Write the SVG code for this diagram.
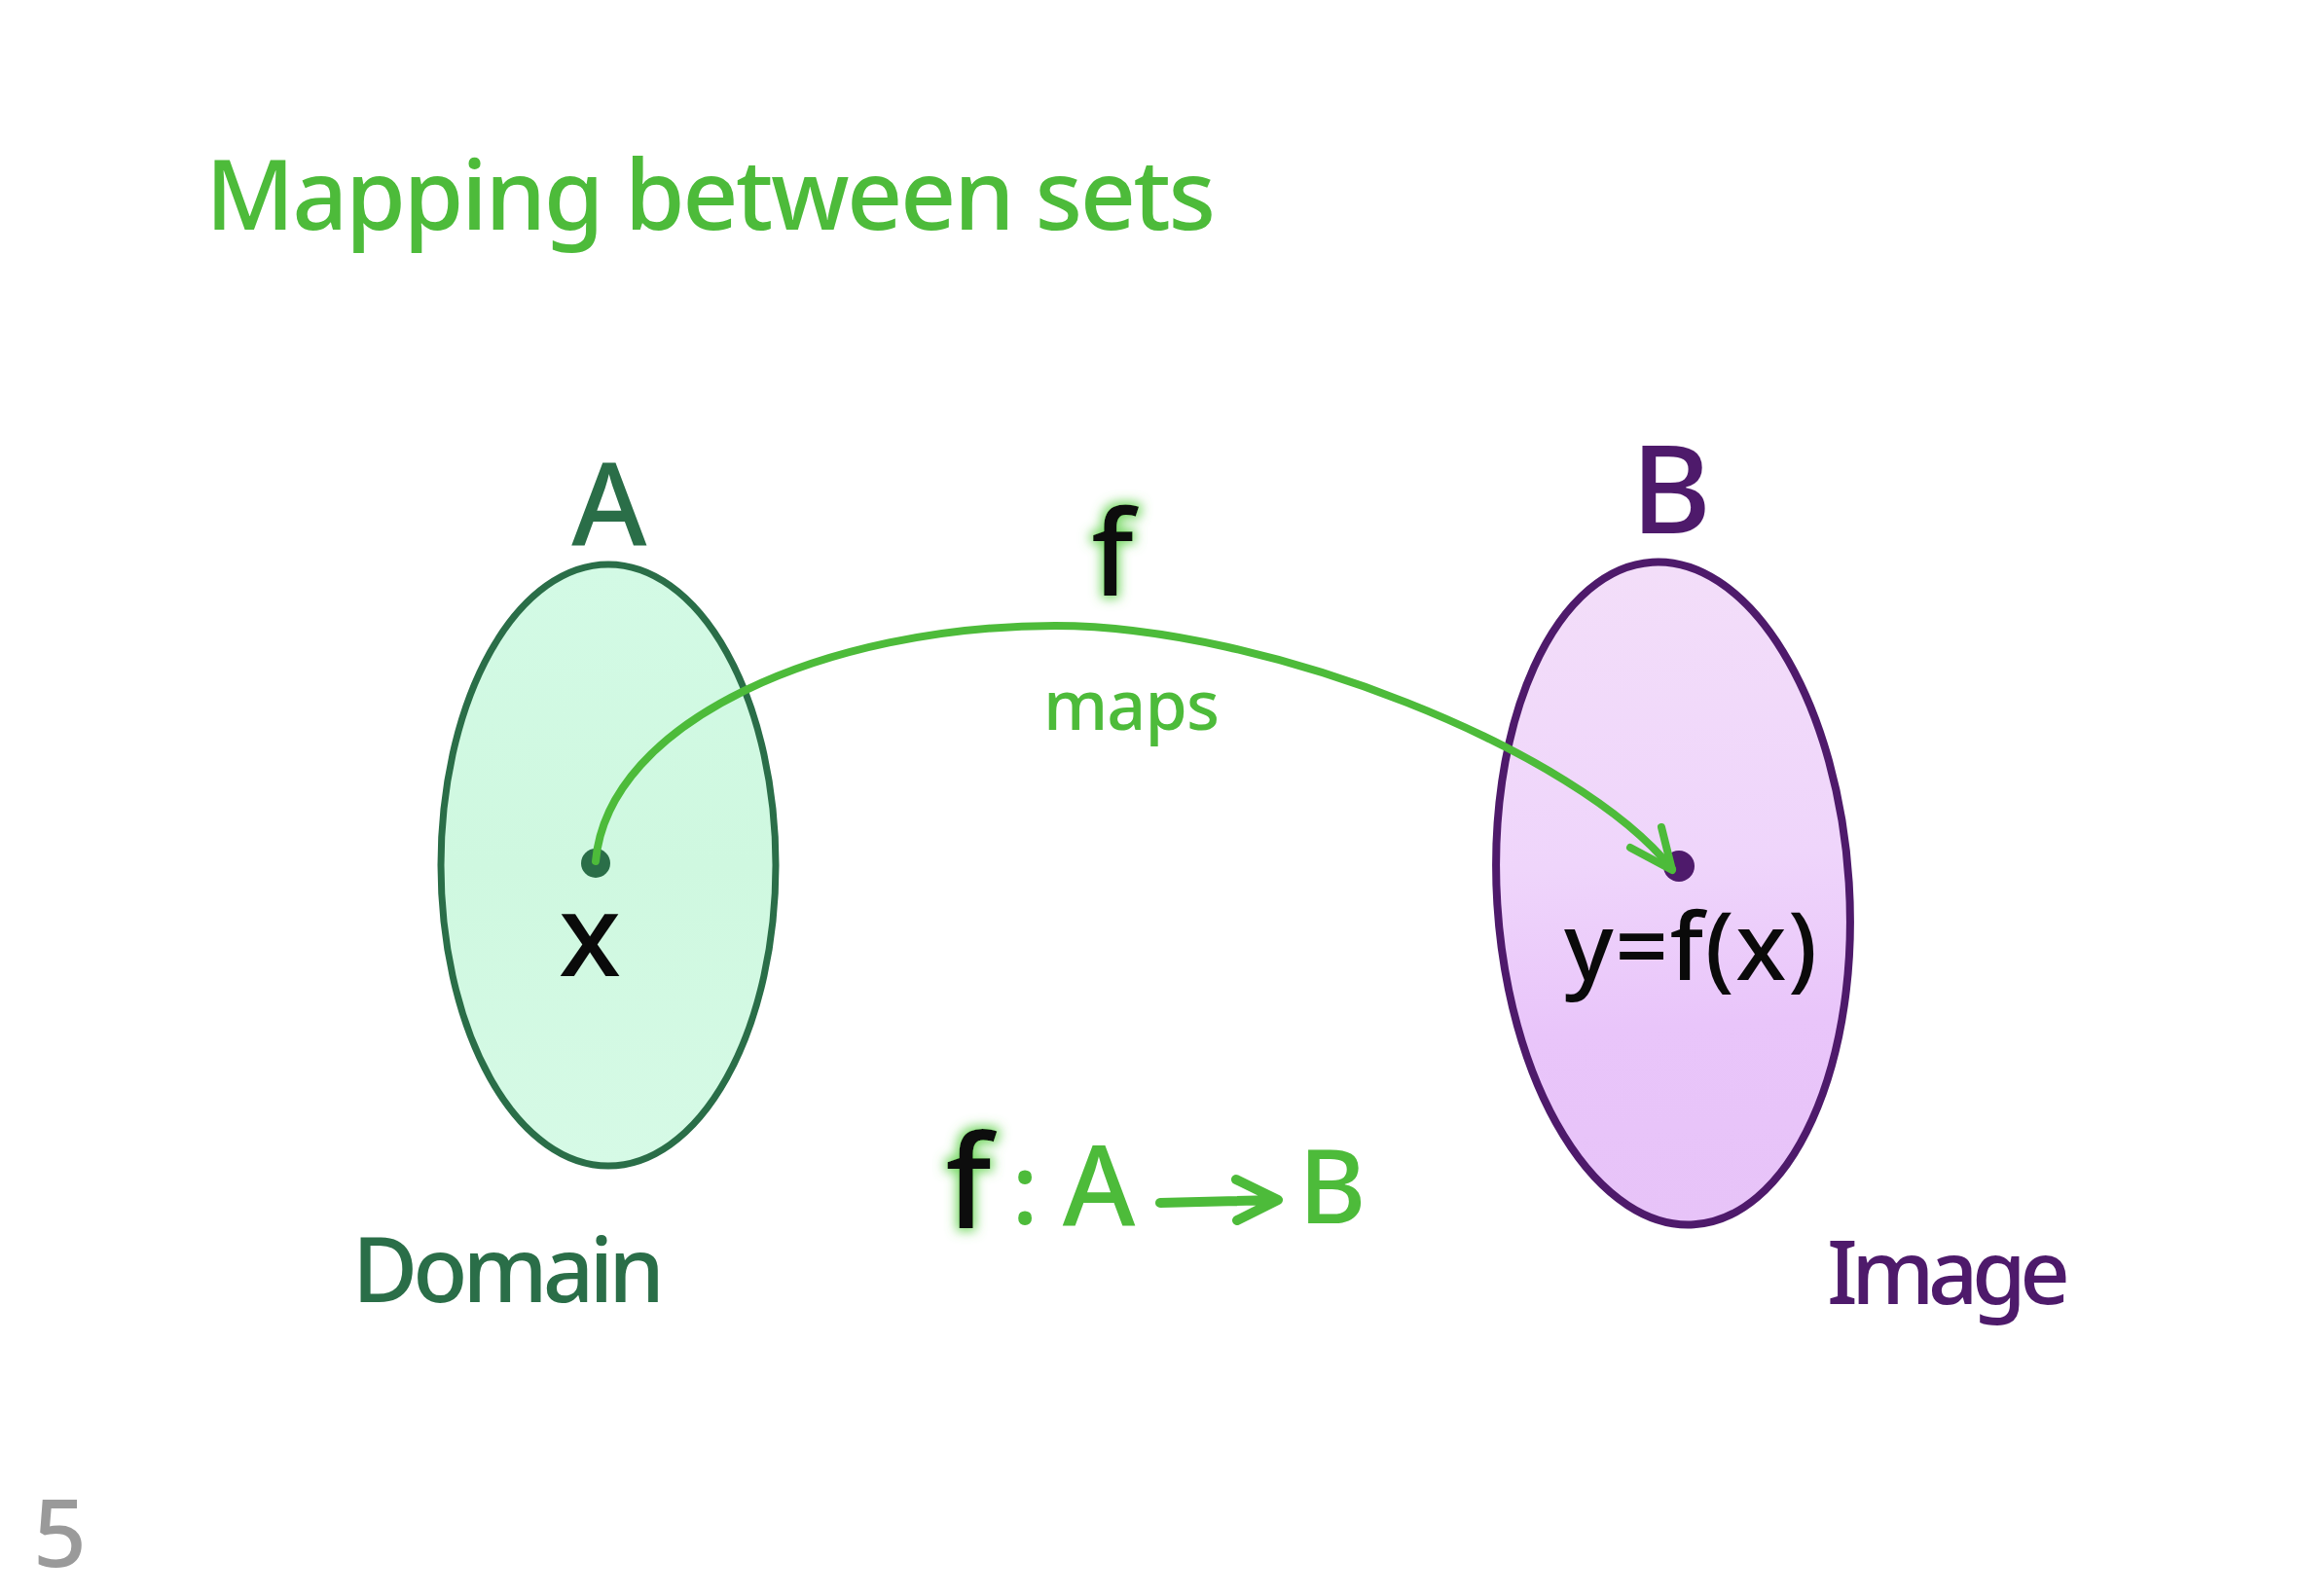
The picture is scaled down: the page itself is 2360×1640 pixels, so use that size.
<svg xmlns="http://www.w3.org/2000/svg" width="2360" height="1640" viewBox="0 0 2360 1640">
  <defs>
    <linearGradient id="gradA" x1="0" y1="0" x2="0" y2="1">
      <stop offset="0" stop-color="#d3fae5"/>
      <stop offset="0.5" stop-color="#cff8e0"/>
      <stop offset="1" stop-color="#d6fae6"/>
    </linearGradient>
    <linearGradient id="gradB" x1="0" y1="0" x2="0" y2="1">
      <stop offset="0" stop-color="#f3def9"/>
      <stop offset="0.45" stop-color="#efd5fb"/>
      <stop offset="0.7" stop-color="#e9c5fa"/>
      <stop offset="1" stop-color="#e7c3f8"/>
    </linearGradient>
    <filter id="glow" x="-50%" y="-50%" width="200%" height="200%">
      <feMorphology in="SourceAlpha" operator="dilate" radius="3" result="d"/>
      <feGaussianBlur in="d" stdDeviation="6" result="b"/>
      <feFlood flood-color="#5fd14a" flood-opacity="0.85"/>
      <feComposite in2="b" operator="in" result="g"/>
      <feMerge>
        <feMergeNode in="g"/>
        <feMergeNode in="SourceGraphic"/>
      </feMerge>
    </filter>
  </defs>
  <style>
    .hand { font-family: "Noto Sans", "Open Sans", "DejaVu Sans", sans-serif; font-weight: 500; }
    .green { fill: #4dbb3a; }
    .dkgreen { fill: #2a6e48; }
    .purple { fill: #4e1a6b; }
    .ink { fill: #0a0a0a; }
    .conn { fill: none; stroke: #4dbb3a; stroke-width: 8; stroke-linecap: round; stroke-linejoin: round; }
  </style>
  <rect width="2360" height="1640" fill="#ffffff"/>

  <g id="title">
    <text class="hand green" x="211" y="236" font-size="100" textLength="1038" lengthAdjust="spacing">Mapping between sets</text>
  </g>

  <g id="setA">
    <ellipse cx="625" cy="889" rx="172" ry="309" fill="url(#gradA)" stroke="#2a6e48" stroke-width="7"/>
    <text class="hand dkgreen" x="626" y="560" font-size="118" text-anchor="middle">A</text>
    <circle cx="612" cy="887" r="15" fill="#2a6e48"/>
    <text class="hand ink" x="606" y="1003" font-size="118" text-anchor="middle">x</text>
    <text class="hand dkgreen" x="362" y="1338" font-size="92" textLength="321" lengthAdjust="spacing">Domain</text>
  </g>

  <g id="setB">
    <ellipse cx="1719" cy="918" rx="181" ry="341" transform="rotate(-3.6 1719 918)" fill="url(#gradB)" stroke="#4e1a6b" stroke-width="8"/>
    <text class="hand purple" x="1717" y="548" font-size="126" text-anchor="middle">B</text>
    <circle cx="1725" cy="890" r="16" fill="#4e1a6b"/>
    <text class="hand ink" x="1607" y="1007" font-size="96" textLength="260" lengthAdjust="spacing">y=f(x)</text>
    <text class="hand purple" x="1877" y="1340" font-size="90" textLength="250" lengthAdjust="spacing">Image</text>
  </g>

  <g id="connectors">
    <path class="conn" d="M612,885 C625,740 850,643 1084,643 C1300,643 1620,770 1718,893"/>
    <polyline class="conn" stroke-width="11" points="1675,871 1718,894 1707,850"/>
  </g>

  <g id="label-f">
    <text class="hand ink" x="1143" y="612" font-size="122" text-anchor="middle" filter="url(#glow)">f</text>
    <text class="hand green" x="1072" y="750" font-size="70" font-weight="600" textLength="181" lengthAdjust="spacing">maps</text>
  </g>

  <g id="notation">
    <text class="hand ink" x="995" y="1262" font-size="132" text-anchor="middle" filter="url(#glow)">f</text>
    <text class="hand green" x="1053" y="1258" font-size="100" font-weight="bold" text-anchor="middle">:</text>
    <text class="hand green" x="1129" y="1260" font-size="114" text-anchor="middle">A</text>
    <path d="M1192,1236 L1312,1233 M1270,1212 L1313,1233 L1271,1254" fill="none" stroke="#4dbb3a" stroke-width="10" stroke-linecap="round" stroke-linejoin="round"/>
    <text class="hand green" x="1369" y="1257" font-size="106" text-anchor="middle">B</text>
  </g>

  <g id="page-number">
    <text class="hand" x="34" y="1610" font-size="96" fill="#8f8f8f" fill-opacity="0.9">5</text>
  </g>
</svg>
